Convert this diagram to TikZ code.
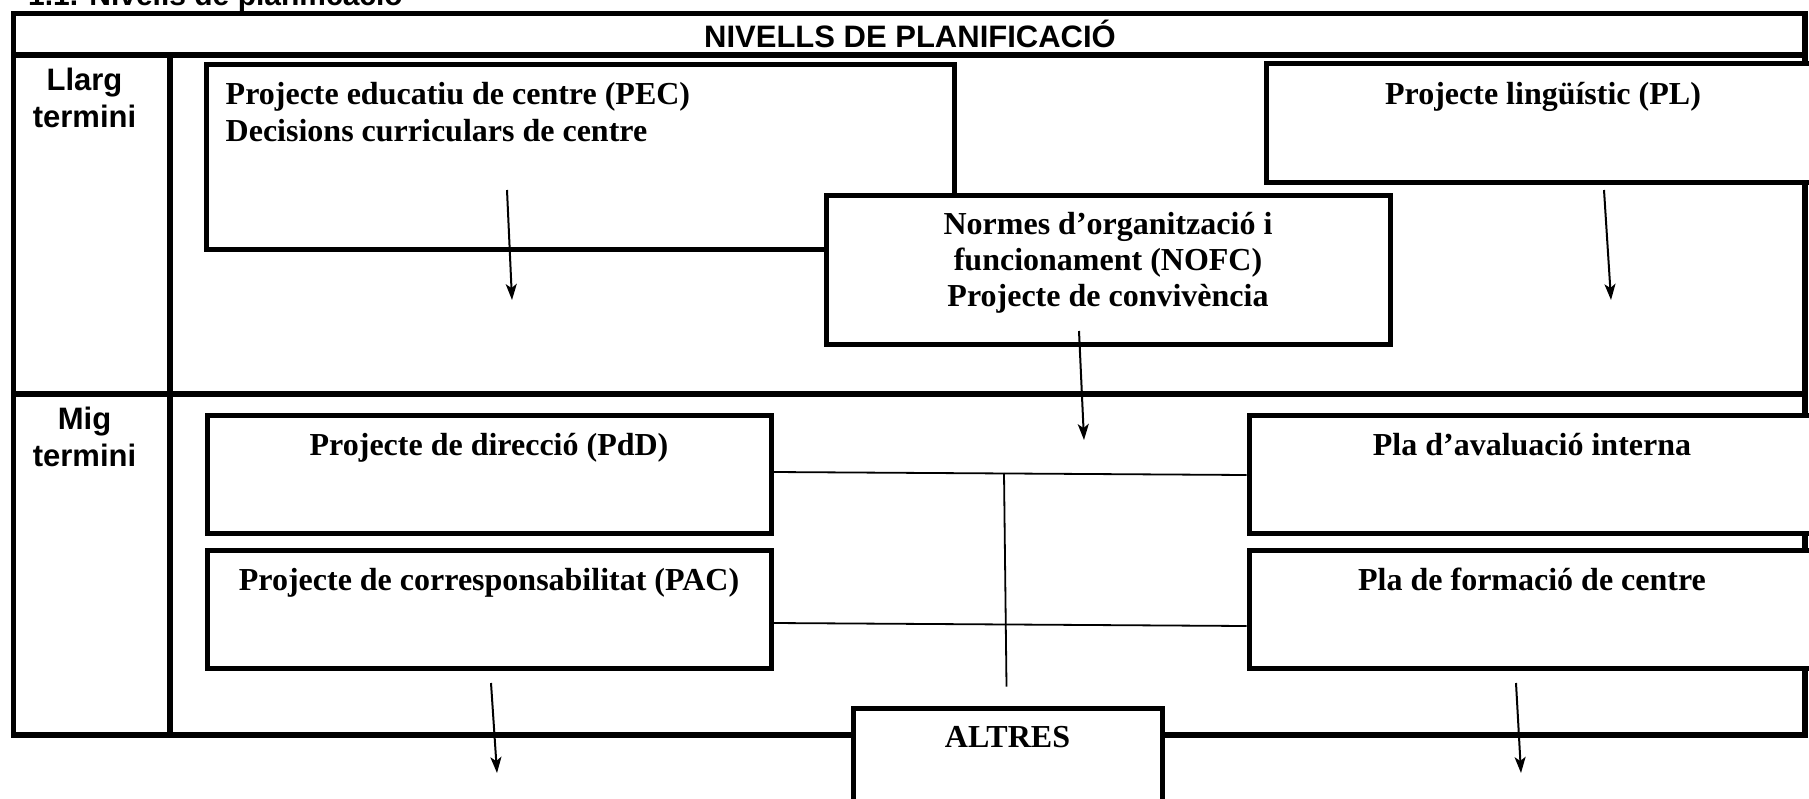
\documentclass[tikz,border=0pt]{standalone}
\usepackage{fontspec}
\setmainfont{Liberation Serif}
\setsansfont{Liberation Sans}
\usetikzlibrary{arrows.meta,calc}
\begin{document}
\begin{tikzpicture}[x=1pt,y=-1pt,
  box/.style={draw,line width=5pt,fill=white,inner sep=0pt},
  gridline/.style={line width=5.5pt},
  thinline/.style={line width=1.8pt},
  arr/.style={line width=2pt,-{Stealth[length=16pt,width=11pt,inset=4pt]}},
  serif/.style={font=\bfseries\fontsize{32}{36.5}\selectfont,inner sep=0pt},
  sans/.style={font=\sffamily\bfseries\fontsize{31}{37}\selectfont,inner sep=0pt}]
\useasboundingbox (0,0) rectangle (1809,798);

% title (cut off at top)
\node[sans,font=\sffamily\bfseries\fontsize{30}{36}\selectfont,anchor=base west] (title) at (28,5) {1.1. Nivells de planificació};

% outer table
\draw[gridline] (13.5,13.5) rectangle (1805,735);
\draw[gridline] (13.5,55) -- (1805,55);
\draw[gridline] (13.5,394) -- (1805,394);
\draw[gridline] (170,55) -- (170,735);
\node[sans,anchor=base] (head) at (910,47) {NIVELLS DE PLANIFICACIÓ};
\node[sans,anchor=base] (llarg1) at (84.5,90) {Llarg};
\node[sans,anchor=base] (llarg2) at (84.5,127) {termini};
\node[sans,anchor=base] (mig1) at (84.5,429) {Mig};
\node[sans,anchor=base] (mig2) at (84.5,466) {termini};

% boxes
\node[box,minimum width=748pt,minimum height=185pt] (pec) at (580,156.5) {};
\node[serif,anchor=base west] (pect1) at ($(pec.north west)+(22,43)$) {Projecte educatiu de centre (PEC)};
\node[serif,anchor=base west] (pect2) at ($(pec.north west)+(22,80)$) {Decisions curriculars de centre};

\node[box,minimum width=554pt,minimum height=119pt] (pl) at (1543,122.5) {};
\node[serif,anchor=base] (plt) at ($(pl.north)+(0,44)$) {Projecte lingüístic (PL)};

\node[box,minimum width=564pt,minimum height=149pt] (nofc) at (1108,269.5) {};
\node[serif,anchor=base] (nofct1) at ($(nofc.north)+(0,42)$) {Normes d’organització i};
\node[serif,anchor=base] (nofct2) at ($(nofc.north)+(0,78)$) {funcionament (NOFC)};
\node[serif,anchor=base] (nofct3) at ($(nofc.north)+(0,113.5)$) {Projecte de convivència};

\node[box,minimum width=564pt,minimum height=118pt] (pdd) at (489,474) {};
\node[serif,anchor=base] (pddt) at ($(pdd.north)+(0,43)$) {Projecte de direcció (PdD)};

\node[box,minimum width=564pt,minimum height=118pt] (pac) at (489,609) {};
\node[serif,anchor=base] (pact) at ($(pac.north)+(0,43)$) {Projecte de corresponsabilitat (PAC)};

\node[box,minimum width=566pt,minimum height=118pt] (aval) at (1532,474) {};
\node[serif,anchor=base] (avalt) at ($(aval.north)+(0,43)$) {Pla d’avaluació interna};

\node[box,minimum width=566pt,minimum height=118pt] (form) at (1532,609) {};
\node[serif,anchor=base] (formt) at ($(form.north)+(0,43)$) {Pla de formació de centre};

\node[box,minimum width=309pt,minimum height=122pt] (altres) at (1007.5,769) {};
\node[serif,anchor=base] (altrest) at ($(altres.north)+(0,42)$) {ALTRES};

% connectors
\draw[thinline] ([yshift=2pt]pdd.east) -- ([yshift=-1pt]aval.west);
\draw[thinline] ([yshift=-14pt]pac.east) -- ([yshift=-17pt]form.west);
\coordinate (vj) at (1004,473);
\draw[thinline] (vj) -- ([yshift=19pt,xshift=-1pt]altres.north);

% arrows
\coordinate (a1s) at (507,190);  \coordinate (a1e) at (512,300);
\coordinate (a2s) at (1604,190); \coordinate (a2e) at (1611,300);
\coordinate (a3s) at (1079,331); \coordinate (a3e) at (1084,440);
\coordinate (a4s) at (491,683);  \coordinate (a4e) at (497,773);
\coordinate (a5s) at (1516,683); \coordinate (a5e) at (1521,773);
\draw[arr] (a1s) -- (a1e);
\draw[arr] (a2s) -- (a2e);
\draw[arr] (a3s) -- (a3e);
\draw[arr] (a4s) -- (a4e);
\draw[arr] (a5s) -- (a5e);
\end{tikzpicture}
\end{document}
